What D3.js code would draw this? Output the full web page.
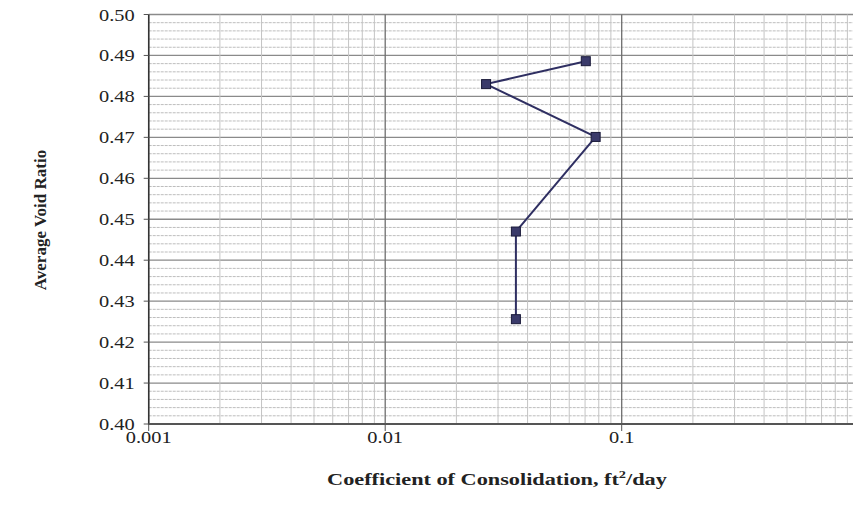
<!DOCTYPE html>
<html>
<head>
<meta charset="utf-8">
<script src="https://cdn.jsdelivr.net/npm/d3@7"></script>
<style>
  body { margin: 0; background: #fff; }
  text { font-family: "Liberation Serif", "Times New Roman", serif; fill: #222; }
</style>
</head>
<body>
<svg class="chart"></svg>
<script>
// coefficient of consolidation (ft2/day) vs average void ratio
const cvValues = [0.0705, 0.0267, 0.0776, 0.0357, 0.0357];
const voidRatio = [0.4886, 0.4830, 0.4701, 0.4470, 0.4256];
const xTicks = [0.001, 0.01, 0.1];
const xTickLabels = ["0.001", "0.01", "0.1"];
const yTicks = [0.40, 0.41, 0.42, 0.43, 0.44, 0.45, 0.46, 0.47, 0.48, 0.49, 0.50];

const mainWidth = 853, mainHeight = 521;
const margin = { top: 14.5, left: 148.7 };
const plotRight = 858.2, plotBottom = 424;
const navy = "#2f2f62";
const stretch = 1.2; // text in the picture looks a bit wide

const svg = d3.select(".chart")
  .attr("width", mainWidth)
  .attr("height", mainHeight);

const xScale = d3.scaleLog().domain([0.001, 1]).range([margin.left, plotRight]);
const yScale = d3.scaleLinear().domain([0.40, 0.50]).range([plotBottom, margin.top]);

const grid = svg.append("g");

// minor horizontal lines every 0.002
d3.range(0, 51).map(i => 0.40 + i * 0.002).forEach((v, i) => {
  const major = i % 5 === 0;
  grid.append("line")
    .attr("x1", margin.left).attr("x2", plotRight)
    .attr("y1", yScale(v)).attr("y2", yScale(v))
    .attr("stroke", major ? "#8a8a8a" : "#bdbdbd")
    .attr("stroke-width", major ? 1.3 : 1)
    .attr("stroke-dasharray", major ? null : "3,1");
});

// vertical log grid
[0.001, 0.01, 0.1].forEach(dec => {
  d3.range(1, 10).forEach(m => {
    const v = dec * m;
    grid.append("line")
      .attr("x1", xScale(v)).attr("x2", xScale(v))
      .attr("y1", margin.top).attr("y2", plotBottom)
      .attr("stroke", m === 1 ? "#6e6e6e" : "#c4c4c4")
      .attr("stroke-width", m === 1 ? 1.3 : 1);
  });
});

// axes
svg.append("line")
  .attr("x1", margin.left).attr("x2", margin.left)
  .attr("y1", margin.top).attr("y2", plotBottom + 1)
  .attr("stroke", "#333").attr("stroke-width", 1.5);
svg.append("line")
  .attr("x1", margin.left).attr("x2", plotRight)
  .attr("y1", plotBottom).attr("y2", plotBottom)
  .attr("stroke", "#555").attr("stroke-width", 2.2);

yTicks.forEach(v => {
  svg.append("line")
    .attr("x1", margin.left - 5).attr("x2", margin.left)
    .attr("y1", yScale(v)).attr("y2", yScale(v))
    .attr("stroke", "#555");
  svg.append("text")
    .attr("transform", `translate(${margin.left - 14}, ${yScale(v) + 6}) scale(${stretch},1)`)
    .attr("text-anchor", "end")
    .attr("font-size", 17)
    .text(v.toFixed(2));
});

xTicks.forEach((v, i) => {
  svg.append("line")
    .attr("x1", xScale(v)).attr("x2", xScale(v))
    .attr("y1", plotBottom).attr("y2", plotBottom + 7)
    .attr("stroke", "#555");
  svg.append("text")
    .attr("transform", `translate(${xScale(v)}, 443) scale(${stretch},1)`)
    .attr("text-anchor", "middle")
    .attr("font-size", 17)
    .text(xTickLabels[i]);
});

// data line
const pts = cvValues.map((c, i) => [c, voidRatio[i]]);
svg.append("path")
  .datum(pts)
  .attr("fill", "none")
  .attr("stroke", navy)
  .attr("stroke-width", 2)
  .attr("d", d3.line().x(d => xScale(d[0])).y(d => yScale(d[1])));

svg.selectAll(".pt")
  .data(pts)
  .enter()
  .append("rect")
  .attr("x", d => xScale(d[0]) - 4.5)
  .attr("y", d => yScale(d[1]) - 4.5)
  .attr("width", 9).attr("height", 9)
  .attr("fill", "#3a3a6a")
  .attr("stroke", "#1a1a3a")
  .attr("stroke-width", 1);

// titles
svg.append("text")
  .attr("transform", "translate(46, 220) rotate(-90)")
  .attr("text-anchor", "middle")
  .attr("font-size", 17)
  .attr("font-weight", "bold")
  .text("Average Void Ratio");

const xt = svg.append("text")
  .attr("transform", `translate(497, 485) scale(1.31,1)`)
  .attr("text-anchor", "middle")
  .attr("font-size", 17)
  .attr("font-weight", "bold");
xt.append("tspan").text("Coefficient of Consolidation, ft");
xt.append("tspan").attr("dy", -7).attr("font-size", 11).text("2");
xt.append("tspan").attr("dy", 7).text("/day");
</script>
</body>
</html>
